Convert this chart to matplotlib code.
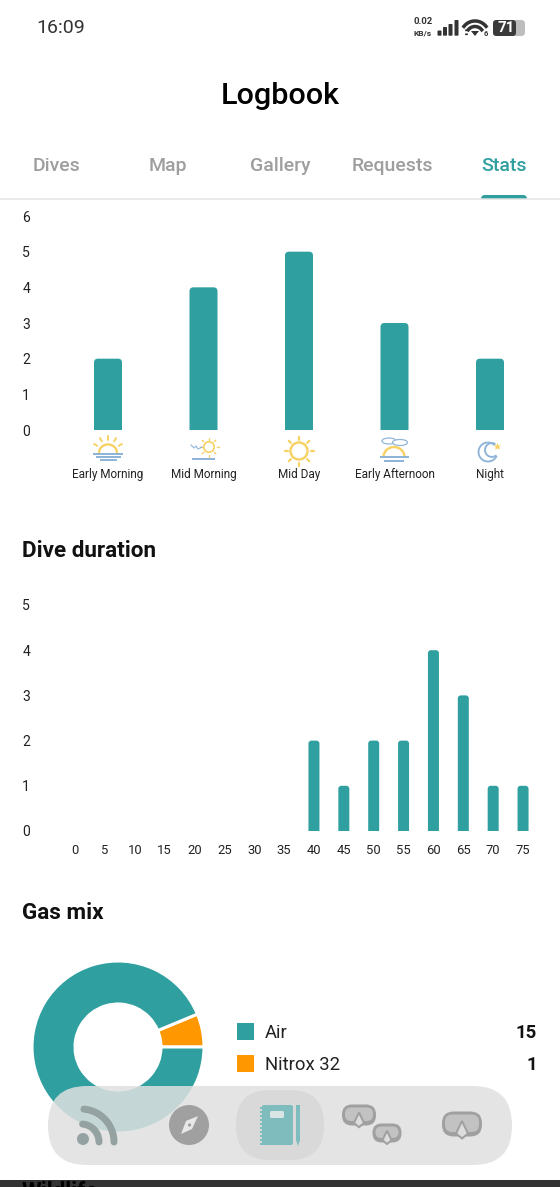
import numpy as np
import matplotlib
matplotlib.use("Agg")
import matplotlib.pyplot as plt
from matplotlib.patches import Circle, Ellipse, FancyBboxPatch, PathPatch, Polygon, Rectangle
from matplotlib.path import Path

plt.rcParams['font.family'] = ['Roboto', 'DejaVu Sans']

# ----------------- data -----------------
time_labels = ["Early Morning", "Mid Morning", "Mid Day", "Early Afternoon", "Night"]
time_counts = [2, 4, 5, 3, 2]

duration_bins = [0, 5, 10, 15, 20, 25, 30, 35, 40, 45, 50, 55, 60, 65, 70, 75]
duration_counts = [0, 0, 0, 0, 0, 0, 0, 0, 2, 1, 2, 2, 4, 3, 1, 1]

gas_labels = ["Air", "Nitrox 32"]
gas_counts = [15, 1]

tab_labels = ["Dives", "Map", "Gallery", "Requests", "Stats"]

TEAL = "#2f9fa0"
ORANGE = "#ff9800"
GREY = "#9e9e9e"
YELLOW = "#f6d264"
BLUE = "#8fb4d8"
W, H = 560, 1187


def px(size):
    return size * 0.72


def axes_px(left, top, right, bottom):
    return fig.add_axes([left / W, 1 - bottom / H, (right - left) / W, (bottom - top) / H])


def round_bar(ax, x, h, w, r_px, px_x, px_y):
    # bar with rounded top corners, r given in pixels
    rx, ry = r_px / px_x, r_px / px_y
    x0, x1 = x - w / 2, x + w / 2
    verts = [(x0, 0), (x0, h - ry), (x0, h), (x0 + rx, h), (x1 - rx, h), (x1, h), (x1, h - ry), (x1, 0), (x0, 0)]
    codes = [Path.MOVETO, Path.LINETO, Path.CURVE3, Path.CURVE3, Path.LINETO, Path.CURVE3, Path.CURVE3, Path.LINETO, Path.CLOSEPOLY]
    ax.add_patch(PathPatch(Path(verts, codes), fc=TEAL, ec="none"))


def clean(ax):
    for s in ax.spines.values():
        s.set_visible(False)
    ax.patch.set_alpha(0)


fig = plt.figure(figsize=(W / 100, H / 100), dpi=100, facecolor="white")

# ----------------- time of day chart -----------------
ax1 = axes_px(60, 216, 538, 430)
step1 = 95.5
ax1.set_xlim((60 - 108) / step1, (538 - 108) / step1)
ax1.set_ylim(0, 6)
for i, c in enumerate(time_counts):
    round_bar(ax1, i, c, 28 / step1, 4, step1, 214 / 6)
ax1.set_xticks(range(len(time_labels)), time_labels, fontsize=px(11.7), color="#222222")
ax1.set_yticks(range(7))
ax1.tick_params(axis="x", length=0, pad=27.5)
ax1.tick_params(axis="y", length=0, pad=21.5, labelsize=px(14), labelcolor="#222222")
clean(ax1)

# ----------------- dive duration chart -----------------
ax2 = axes_px(60, 605, 538, 831)
step2 = 29.87 / 5
ax2.set_xlim((60 - 75) / step2, (538 - 75) / step2)
ax2.set_ylim(0, 5)
for d, c in zip(duration_bins, duration_counts):
    if c > 0:
        round_bar(ax2, d, c, 11 / step2, 3, step2, 226 / 5)
ax2.set_xticks(duration_bins)
ax2.set_yticks(range(6))
ax2.tick_params(axis="x", length=0, pad=9, labelsize=px(13), labelcolor="#222222")
ax2.tick_params(axis="y", length=0, pad=21.5, labelsize=px(14), labelcolor="#222222")
clean(ax2)

# ----------------- gas donut -----------------
ax3 = axes_px(118 - 86, 1047 - 86, 118 + 86, 1047 + 86)
ax3.pie(gas_counts[::-1], colors=[ORANGE, TEAL], startangle=0, radius=1.0, counterclock=True,
        wedgeprops=dict(width=0.5, edgecolor="white", linewidth=2.2))
ax3.set_xlim(-1, 1)
ax3.set_ylim(-1, 1)

# ----------------- screen furniture, in pixels -----------------
ui = fig.add_axes([0, 0, 1, 1], zorder=5)
ui.set_xlim(0, W)
ui.set_ylim(H, 0)
ui.axis("off")

# status bar
ui.text(36.5, 28, "16:09", fontsize=px(19.5), color="#333333", va="center")
ui.text(423, 21.5, "0.02", fontsize=px(9.5), weight="bold", color="#333333", ha="center", va="center")
ui.text(423, 32.5, "KB/s", fontsize=px(8.5), weight="bold", color="#333333", ha="center", va="center")
for x, top in zip([437.5, 443, 448.5, 454.5], [30.5, 27, 24, 20]):
    ui.add_patch(FancyBboxPatch((x, top), 4, 35.7 - top, boxstyle="round,pad=0,rounding_size=0.8", fc="#333333", ec="none"))
for r, lw in [(14, 3.5), (8.5, 3.5)]:
    t = np.radians(np.linspace(38, 142, 30))
    ui.plot(475 + r * np.cos(t), 35 - r * np.sin(t), color="#333333", lw=px(lw))
ui.add_patch(Polygon([(471, 31), (479, 31), (475, 36)], fc="#333333"))
ui.plot([465.5, 465.5], [29, 35], color="#333333", lw=px(2.8), ls=(0, (0.6, 0.8)))
ui.text(485.5, 34, "6", fontsize=px(7.5), weight="bold", color="#333333", ha="center", va="center")
ui.add_patch(FancyBboxPatch((493, 20), 32, 16, boxstyle="round,pad=0,rounding_size=4", fc="#bdbdbd", ec="none"))
ui.add_patch(FancyBboxPatch((493, 20), 23, 16, boxstyle="round,pad=0,rounding_size=3.5", fc="#3a3a3a", ec="none"))
ui.text(506, 28, "71", fontsize=px(15), weight="bold", color="white", ha="center", va="center")

# header and tabs
ui.text(280, 95.5, "Logbook", fontsize=px(30.5), weight="medium", color="black", ha="center", va="center")
for x, label in zip([56, 168, 280, 392, 504], tab_labels):
    col = TEAL if label == "Stats" else GREY
    ui.text(x, 166, label, fontsize=px(19.5), weight="medium", color=col, ha="center", va="center")
ui.plot([0, W], [198.5, 198.5], color="#e2e2e2", lw=px(1.5))
ui.add_patch(FancyBboxPatch((481, 195), 46, 8, boxstyle="round,pad=0,rounding_size=4", fc=TEAL, ec="none"))
ui.add_patch(Rectangle((478, 199.3), 52, 6, fc="white", ec="none"))

# section headings
ui.text(22, 551, "Dive duration", fontsize=px(22.5), weight="bold", color="#111111", va="center")
ui.text(22, 913, "Gas mix", fontsize=px(22.5), weight="bold", color="#111111", va="center")


def rays(cx, cy, r0, r1, angles, lw=2):
    for a in angles:
        t = np.radians(a)
        ui.plot([cx + r0 * np.cos(t), cx + r1 * np.cos(t)], [cy - r0 * np.sin(t), cy - r1 * np.sin(t)],
                color=YELLOW, lw=px(lw), solid_capstyle="round")


def dome(cx, base, r, col=YELLOW):
    t = np.radians(np.linspace(0, 180, 40))
    ui.plot(cx + r * np.cos(t), base - r * 0.95 * np.sin(t), color=col, lw=px(2.4))


def hline(x0, x1, y, col=BLUE, lw=2):
    ui.plot([x0, x1], [y, y], color=col, lw=px(lw))


# early morning
dome(108, 453, 9)
rays(108, 452, 12.5, 16, [30, 60, 90, 120, 150])
hline(94, 122, 454)
hline(97, 120, 457)
hline(101, 116, 460)
# mid morning
ui.add_patch(Circle((209, 447), 5.2, fc="none", ec=YELLOW, lw=px(1.7)))
rays(209, 447, 7.5, 9.5, range(0, 360, 45), lw=1.4)
ui.plot([191, 194, 196, 198, 202], [445, 448, 446, 449, 447], color=BLUE, lw=px(1.1))
hline(193, 214, 459)
# mid day
ui.add_patch(Circle((299, 451), 8.5, fc="none", ec=YELLOW, lw=px(2.4)))
rays(299, 451, 11.5, 14.5, range(0, 360, 45), lw=2.2)
# early afternoon
dome(394, 457, 10.5)
hline(381, 408, 457)
hline(385, 403, 460.5)
ui.add_patch(Ellipse((389, 441), 14, 6, fc="white", ec=BLUE, lw=px(1.2)))
ui.add_patch(Ellipse((400, 442.5), 15, 6, fc="white", ec=BLUE, lw=px(1.2)))
# night
t = np.radians(np.linspace(50, 330, 60))
ui.plot(488 + 9.5 * np.cos(t), 452 - 9.5 * np.sin(t), color=BLUE, lw=px(1.9))
t = np.radians(np.linspace(67, 302.5, 60))
ui.plot(491.9 + 6.9 * np.cos(t), 450 - 6.9 * np.sin(t), color=BLUE, lw=px(1.9))
ui.plot([497], [445.5], marker="*", ms=6, color=YELLOW, mec="none")

# legend
for y, col, label, n in zip([1023, 1055], [TEAL, ORANGE], gas_labels, gas_counts):
    ui.add_patch(Rectangle((237, y), 17, 17, fc=col, ec="none"))
    ui.text(265, y + 9.5, label, fontsize=px(18.5), color="#222222", va="center")
    ui.text(537, y + 9.5, str(n), fontsize=px(18.5), weight="bold", color="#111111", ha="right", va="center")

# bottom navigation
ui.add_patch(FancyBboxPatch((48, 1086), 464, 79, boxstyle="round,pad=0,rounding_size=39", fc="#e0e0e0", ec="none", alpha=0.85))
ui.add_patch(FancyBboxPatch((236, 1090), 88, 70, boxstyle="round,pad=0,rounding_size=34", fc="#d9d9d9", ec="none"))

# feed icon
ICON = "#a0a0a0"
FEED = "#95a2a2"
ui.add_patch(Circle((83, 1139), 6, fc=FEED, ec="none"))
for r in [18, 33]:
    t = np.radians(np.linspace(0, 85, 30))
    ui.plot(81 + r * np.cos(t), 1142 - r * np.sin(t), color=FEED, lw=px(7), solid_capstyle="round")

# compass icon
ui.add_patch(Circle((189, 1125), 20, fc=ICON, ec="none"))
ui.add_patch(Polygon([(181, 1134), (186, 1121), (198, 1116), (192, 1129)], fc="#e8e8e8", ec="none"))
ui.add_patch(Circle((189.5, 1125), 1.6, fc=ICON, ec="none"))

# notebook icon
NOTE = "#7fbcbd"
ui.add_patch(FancyBboxPatch((262, 1105), 31, 40, boxstyle="round,pad=0,rounding_size=2", fc=NOTE, ec="none"))
ui.add_patch(FancyBboxPatch((270, 1111), 14, 7, boxstyle="round,pad=0,rounding_size=1.5", fc="#d9e4e4", ec="none"))
for y in np.arange(1108, 1145, 4):
    ui.plot([260.5, 263.5], [y, y], color=NOTE, lw=px(2))
ui.add_patch(Polygon([(296, 1105), (300, 1105), (300, 1140), (298, 1146), (296, 1140)], fc=NOTE, ec="none"))


def mask(cx, cy, w, h):
    ui.add_patch(FancyBboxPatch((cx - w / 2, cy - h / 2), w, h, boxstyle="round,pad=0,rounding_size=%f" % (h * 0.48), fc=ICON, ec="none"))
    ui.add_patch(FancyBboxPatch((cx - w / 2 + 3, cy - h / 2 + 3), w - 6, h - 7.5, boxstyle="round,pad=0,rounding_size=%f" % (h * 0.3), fc="#c2c2c2", ec="none"))
    ui.add_patch(Polygon([(cx, cy - h * 0.12), (cx + h * 0.24, cy + h * 0.38), (cx, cy + h * 0.58), (cx - h * 0.24, cy + h * 0.38)], fc="#dddddd", ec=ICON, lw=px(2)))


mask(359, 1115, 34, 21)
mask(387, 1133, 29, 19)
mask(462, 1124, 40, 25)

# next section, cut off by the bottom edge
ui.add_patch(Rectangle((0, 1180), W, 8, fc="#333333", ec="none"))
ui.text(22, 1181, "Wildlife", fontsize=px(22.5), weight="bold", color="black", va="top", clip_on=True)

fig.savefig("out.png", dpi=100)
